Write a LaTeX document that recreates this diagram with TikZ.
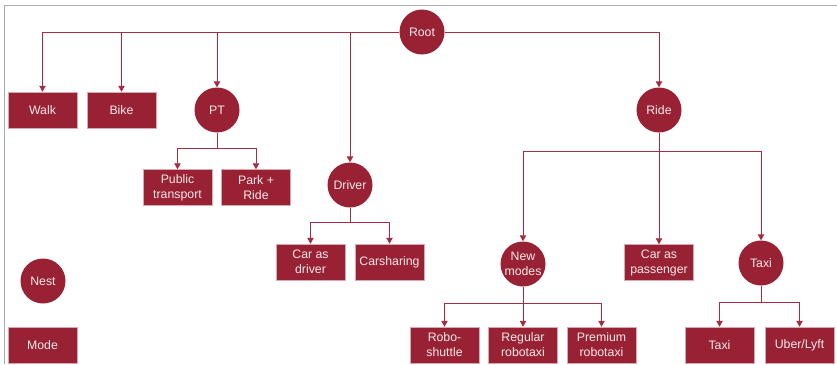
\documentclass[tikz,border=0pt]{standalone}
\usepackage{fontspec}
\setmainfont{Liberation Sans}
\usetikzlibrary{arrows.meta}
\definecolor{wine}{RGB}{152,34,52}
\definecolor{wineline}{RGB}{165,45,65}
\definecolor{paletext}{RGB}{246,232,234}
\definecolor{framegrey}{RGB}{172,172,172}
\tikzset{
  modebox/.style={rectangle, fill=wine, draw={rgb,255:red,215;green,170;blue,178}, line width=0.5pt,
    minimum width=69pt, minimum height=36pt, inner sep=1pt, align=center,
    text=paletext, font=\fontsize{12.3}{15}\selectfont},
  nestcirc/.style={circle, fill=wine, minimum size=45pt, inner sep=0pt, align=center,
    text=paletext, font=\fontsize{12.3}{15}\selectfont},
  link/.style={draw=wineline, line width=0.9pt, -{Triangle[length=6pt,width=6.5pt]}},
  plain/.style={draw=wineline, line width=0.9pt}
}
\begin{document}
\begin{tikzpicture}[x=1pt,y=-1pt]
\useasboundingbox (0,0) rectangle (837,364);
% page frame
\draw[framegrey, line width=1.5pt] (4.5,364) -- (4.5,5.5) -- (837,5.5);

% nests
\node[nestcirc] (root) at (422,32) {Root};
\node[nestcirc] (pt) at (217,110) {PT};
\node[nestcirc] (ride) at (659,110) {Ride};
\node[nestcirc] (driver) at (350,185) {Driver};
\node[nestcirc] (newm) at (523,264) {New\\modes};
\node[nestcirc] (taxin) at (761,263) {Taxi};
\node[nestcirc] (nest) at (43,281) {Nest};

% modes
\node[modebox] (walk) at (42.5,110) {Walk};
\node[modebox] (bike) at (121.5,110) {Bike};
\node[modebox] (pub) at (177.5,187.5) {Public\\transport};
\node[modebox] (pr) at (256,187.5) {Park +\\Ride};
\node[modebox] (cad) at (310.5,262) {Car as\\driver};
\node[modebox] (cs) at (389.5,262) {Carsharing};
\node[modebox] (cap) at (659,262.5) {Car as\\passenger};
\node[modebox] (rs) at (444.5,345) {Robo-\\shuttle};
\node[modebox] (rr) at (523,345) {Regular\\robotaxi};
\node[modebox] (pre) at (601.5,345) {Premium\\robotaxi};
\node[modebox] (tx) at (719.5,345) {Taxi};
\node[modebox] (ub) at (799.5,345) {Uber/Lyft};
\node[modebox] (mode) at (42.5,345) {Mode};

% branch points
\coordinate (ptb) at (217,148);
\coordinate (drb) at (350,222);
\coordinate (rdb) at (659,151);
\coordinate (nmb) at (523,303);
\coordinate (txb) at (761,302);

% connectors from the root
\draw[link] (root) -| (walk);
\draw[link] (root) -| (bike);
\draw[link] (root) -| (pt);
\draw[link] (root) -| (driver);
\draw[link] (root) -| (ride);

% PT
\draw[plain] (pt) -- (ptb);
\draw[link] (ptb) -| (pub);
\draw[link] (ptb) -| (pr);

% Driver
\draw[plain] (driver) -- (drb);
\draw[link] (drb) -| (cad);
\draw[link] (drb) -| (cs);

% Ride
\draw[plain] (ride) -- (rdb);
\draw[link] (rdb) -| (newm);
\draw[link] (rdb) -- (cap);
\draw[link] (rdb) -| (taxin);

% New modes
\draw[plain] (newm) -- (nmb);
\draw[link] (nmb) -| (rs);
\draw[link] (nmb) -- (rr);
\draw[link] (nmb) -| (pre);

% Taxi
\draw[plain] (taxin) -- (txb);
\draw[link] (txb) -| (tx);
\draw[link] (txb) -| (ub);
\end{tikzpicture}
\end{document}
